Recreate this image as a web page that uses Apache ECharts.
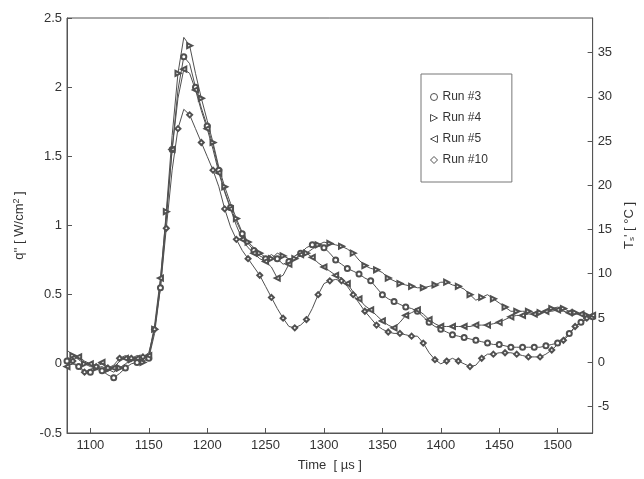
<!DOCTYPE html>
<html>
<head>
<meta charset="utf-8">
<script src="https://cdn.jsdelivr.net/npm/echarts@6/dist/echarts.min.js"></script>
<style>
html,body{margin:0;padding:0;background:#fff;overflow:hidden;}
#chart{width:644px;height:479px;}
</style>
</head>
<body>
<div id="chart"></div>
<script>
const timeUs = [1080,1085,1090,1095,1100,1105,1110,1115,1120,1125,1130,1135,1140,1145,1150,1155,1160,1165,1170,1175,1180,1185,1190,1195,1200,1205,1210,1215,1220,1225,1230,1235,1240,1245,1250,1255,1260,1265,1270,1275,1280,1285,1290,1295,1300,1305,1310,1315,1320,1325,1330,1335,1340,1345,1350,1355,1360,1365,1370,1375,1380,1385,1390,1395,1400,1405,1410,1415,1420,1425,1430,1435,1440,1445,1450,1455,1460,1465,1470,1475,1480,1485,1490,1495,1500,1505,1510,1515,1520,1525,1530];

const run3 = [0.02,0.00,-0.02,-0.05,-0.06,-0.04,-0.05,-0.08,-0.10,-0.07,-0.03,0.00,0.01,0.02,
  0.04,0.22,0.55,1.04,1.55,1.98,2.22,2.17,2.00,1.85,1.72,1.58,1.40,1.25,1.13,1.03,0.94,0.87,0.82,0.78,0.76,0.79,0.76,0.72,0.74,0.78,0.80,0.84,0.86,0.85,0.84,0.80,0.75,0.72,0.69,0.67,0.65,0.62,0.60,0.55,0.50,0.47,0.45,0.43,0.41,0.40,0.38,0.34,0.30,0.27,0.25,0.23,0.21,0.20,0.19,0.18,0.17,0.16,0.15,0.14,0.14,0.13,0.12,0.12,0.12,0.12,0.12,0.12,0.13,0.14,0.15,0.18,0.22,0.27,0.30,0.32,0.34];

const run4 = [0.10,0.06,0.03,0.00,-0.02,-0.03,-0.02,-0.04,-0.06,-0.03,0.00,0.03,0.02,0.01,
  0.05,0.25,0.60,1.10,1.65,2.10,2.36,2.30,2.10,1.92,1.76,1.60,1.42,1.28,1.16,1.05,0.95,0.88,0.84,0.80,0.77,0.76,0.80,0.78,0.76,0.76,0.78,0.80,0.83,0.86,0.88,0.87,0.86,0.85,0.83,0.80,0.75,0.71,0.69,0.68,0.66,0.62,0.60,0.58,0.57,0.56,0.55,0.55,0.56,0.57,0.59,0.59,0.57,0.56,0.54,0.50,0.46,0.48,0.50,0.47,0.44,0.41,0.38,0.38,0.38,0.38,0.37,0.37,0.38,0.40,0.41,0.40,0.38,0.37,0.36,0.35,0.34];

const run5 = [-0.02,0.03,0.05,0.02,0.00,-0.01,0.01,-0.02,-0.03,0.02,0.04,0.05,0.04,0.03,
  0.06,0.28,0.62,1.08,1.55,1.92,2.13,2.10,1.98,1.83,1.70,1.55,1.38,1.24,1.12,1.00,0.90,0.84,0.80,0.76,0.74,0.70,0.62,0.64,0.72,0.76,0.79,0.80,0.77,0.73,0.70,0.67,0.64,0.62,0.58,0.52,0.47,0.42,0.39,0.35,0.31,0.28,0.26,0.30,0.35,0.37,0.39,0.36,0.32,0.29,0.27,0.27,0.27,0.27,0.27,0.27,0.28,0.28,0.28,0.29,0.30,0.32,0.34,0.35,0.35,0.36,0.36,0.37,0.38,0.38,0.39,0.38,0.37,0.36,0.36,0.35,0.35];

const run10 = [0.05,0.02,-0.03,-0.06,-0.04,-0.02,0.00,-0.03,-0.01,0.04,0.06,0.04,0.06,0.05,
  0.08,0.25,0.55,0.98,1.40,1.70,1.84,1.80,1.70,1.60,1.50,1.40,1.28,1.12,0.99,0.90,0.82,0.76,0.70,0.64,0.56,0.48,0.40,0.33,0.27,0.26,0.28,0.32,0.40,0.50,0.58,0.60,0.61,0.60,0.56,0.50,0.44,0.38,0.33,0.28,0.25,0.23,0.22,0.22,0.21,0.20,0.20,0.15,0.08,0.03,0.00,0.02,0.04,0.02,0.00,-0.02,-0.01,0.04,0.07,0.07,0.08,0.08,0.08,0.07,0.06,0.05,0.05,0.05,0.07,0.10,0.14,0.17,0.21,0.27,0.30,0.33,0.35];

const runNames = ['Run #3','Run #4','Run #5','Run #10'];
const runValues = [run3, run4, run5, run10];
const runSymbols = ['emptyCircle','emptyTriangle','emptyTriangle','emptyDiamond'];
const runRotate = [0,-90,90,0];
const legendIcons = ['circle','path://M0,0 L10,5 L0,10 Z','path://M10,0 L0,5 L10,10 Z','diamond'];

const ink = '#505050';
const txt = '#333';
const font = 'Liberation Sans, Arial, sans-serif';

const chart = echarts.init(document.getElementById('chart'), null, {renderer:'canvas', width: 644, height: 479});

const series = runNames.map((name, k) => ({
  name: name,
  type: 'line',
  yAxisIndex: 0,
  data: timeUs.map((t, i) => [t, runValues[k][i]]),
  symbol: (v, p) => (p.dataIndex % 2 === (k % 2)) ? runSymbols[k] : 'none',
  symbolSize: 5,
  symbolRotate: runRotate[k],
  showAllSymbol: true,
  lineStyle: {color: ink, width: 1},
  itemStyle: {color: ink, borderColor: ink, borderWidth: 1},
  emphasis: {disabled: true},
  animation: false,
  z: 3
}));

chart.setOption({
  animation: false,
  backgroundColor: '#fff',
  textStyle: {fontFamily: font},
  grid: {left: 67, right: 47, top: 18, bottom: 46, show: true, borderColor: '#555', borderWidth: 1, backgroundColor: '#fff'},
  legend: {
    orient: 'vertical',
    left: 421, top: 74,
    padding: [17, 24, 16, 9],
    itemGap: 9,
    itemWidth: 7, itemHeight: 7,
    itemTextGap: 9,
    borderColor: '#777', borderWidth: 1,
    backgroundColor: '#fff',
    textStyle: {color: txt, fontSize: 12, fontFamily: font},
    data: runNames.map((n, k) => ({name: n, icon: legendIcons[k], itemStyle: {color: '#fff', borderColor: ink, borderWidth: 1}}))
  },
  xAxis: {
    type: 'value',
    min: 1080, max: 1530,
    splitNumber: 9,
    name: 'Time  [ µs ]',
    nameLocation: 'middle',
    nameGap: 26,
    nameTextStyle: {color: txt, fontSize: 13, fontFamily: font},
    axisLine: {show: true, onZero: false, lineStyle: {color: '#555'}},
    axisTick: {show: true, inside: true, length: 5, lineStyle: {color: '#555'}},
    axisLabel: {color: txt, fontSize: 13, margin: 6, showMinLabel: false, showMaxLabel: false, fontFamily: font, formatter: v => String(v)},
    splitLine: {show: false}
  },
  yAxis: [{
    type: 'value',
    min: -0.5, max: 2.5, interval: 0.5,
    position: 'left',
    name: "q'' [ W/cm{sup|2} ]",
    nameLocation: 'middle',
    nameRotate: 90,
    nameGap: 40,
    nameTextStyle: {color: txt, fontSize: 13, fontFamily: font, rich: {sup: {fontSize: 9, verticalAlign: 'top', padding: [0,0,6,0], color: txt}}},
    axisLine: {show: true, onZero: false, lineStyle: {color: '#555'}},
    axisTick: {show: true, inside: true, length: 5, lineStyle: {color: '#555'}},
    axisLabel: {color: txt, fontSize: 13, margin: 5, fontFamily: font},
    splitLine: {show: false}
  }, {
    type: 'value',
    min: -8.0, max: 38.9,
    splitNumber: 9,
    position: 'right',
    name: "T{sub|s}' [ °C ]",
    nameLocation: 'middle',
    nameRotate: 90,
    nameGap: 26,
    nameTextStyle: {color: txt, fontSize: 13, fontFamily: font, rich: {sub: {fontSize: 8, verticalAlign: 'bottom', color: txt}}},
    axisLine: {show: true, onZero: false, lineStyle: {color: '#555'}},
    axisTick: {show: true, inside: true, length: 5, lineStyle: {color: '#555'}},
    axisLabel: {color: txt, fontSize: 13, margin: 5, showMinLabel: false, showMaxLabel: false, fontFamily: font},
    splitLine: {show: false}
  }],
  series: series
});
</script>
</body>
</html>
